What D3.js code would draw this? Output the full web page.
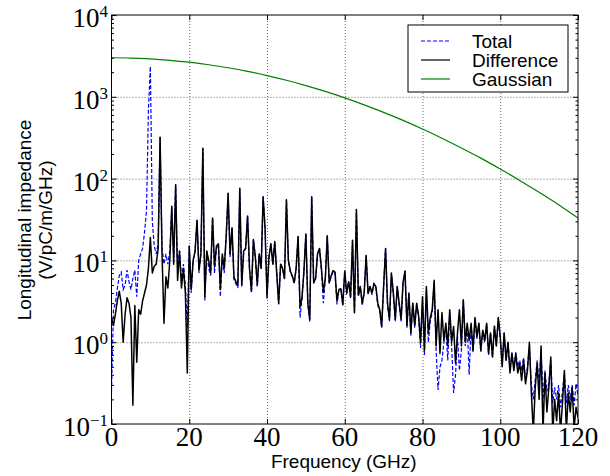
<!DOCTYPE html>
<html>
<head>
<meta charset="utf-8">
<script src="https://cdn.jsdelivr.net/npm/d3@7"></script>
<style>
  body { margin: 0; background: #fff; }
  svg { display: block; }
  .grid line { stroke: #444; stroke-dasharray: 1,2; stroke-width: 0.8; }
  .grid path { display: none; }
  .tk path { display: none; }
  .tk line { stroke: #000; stroke-width: 1; }
  .tk text { display: none; }
</style>
</head>
<body>
<script>
// spectrum sampled every 0.5 GHz, 0 .. 120 GHz
const freqStep = 0.5;

const totalVals = [
  0.25,2.5,3.0,4.5,6.5,7.2,4.4,5.0,7.6,5.5,
  4.4,6.0,7.6,3.6,10,12,14,22,40,700,
  2350,30,15,12,16,320,14,9,12,9,
  13,46,11,84,8,13,6,9,5,1.5,
  15,4.0,10,13,31,7,12,235,3.2,13,
  8,6.5,33,7,14,16,3.6,11,7,19.6,
  66,11,25,5.8,5.2,4.6,76,4.8,13,14,
  35,7.5,4.0,18,11,4.8,12,8,60,25,
  3.4,11,16,9,17,7,2.9,9,8,6,
  55,10,7.2,6.3,5.2,8,19.6,2.0,3.4,7.2,
  21,3,1.75,60,5.2,6,12,14,7.6,3.0,
  6,20,5.2,6.3,7.4,7.0,2.9,4.4,4.4,2.8,
  7.4,3.8,5.5,3.4,17.6,2.2,42,3.6,4.8,2.8,
  4.0,11.5,3.8,4.8,3.8,5.2,4.6,2.8,2.4,1.5,
  4.8,14,2.8,1.8,7,3.8,1.8,4.8,2.8,1.8,
  5.4,7.4,1.5,4.0,1.2,3.0,1.5,3.0,2.0,0.85,
  3.2,0.7,4.5,1.0,1.8,2.3,5.5,0.8,0.26,0.5,
  0.6,1.0,1.5,0.6,2.3,0.9,0.24,0.4,1.2,0.45,
  0.8,3.3,0.9,1.6,0.4,1.6,0.75,1.9,1.1,1.7,
  0.75,1.4,1.0,1.7,0.7,1.3,0.65,1.6,0.9,2.0,
  1.1,0.55,1.3,0.6,1.0,0.45,0.75,0.5,0.75,0.5,
  0.6,0.45,0.65,0.35,0.5,0.9,0.3,0.2,0.35,0.6,
  0.3,0.8,0.2,0.45,0.25,0.32,0.6,0.18,0.28,0.2,
  0.3,0.16,0.25,0.42,0.18,0.3,0.2,0.3,0.17,0.31,
  0.22
];

const diffVals = [
  2.0,1.6,2.2,3.2,4.2,3.0,1.0,2.2,3.5,3.0,
  2.0,0.17,2.8,0.57,2.5,2.2,3.2,4.0,5.0,8,
  19,7,8.5,9,14,320,12,1.7,6.3,4.6,
  10,46,9,84,5.7,13,4.6,8,4,0.42,
  15,4.4,10,13,31,7.6,12,235,3.6,13,
  10,7,33,8.5,15,16,4.4,12,8,19.6,
  66,12,25,6.2,5.5,5,76,5,13,14,
  35,8,4.2,18,11,5,12,8,60,25,
  3.6,11,16,9,17,7,3.0,9,8,6,
  55,10,7.4,6.5,5.4,8,19.6,2.7,3.5,7.4,
  21,3,1.9,60,5.4,6,12,14,8,4.1,
  6,20,5.4,6.5,7.5,7.2,3.2,4.4,4.5,2.9,
  7.4,4.0,5.5,3.6,17.6,2.3,42,3.8,4.8,3.0,
  4.0,11.5,4.0,4.8,4.0,5.2,4.8,3.0,2.5,1.56,
  4.8,14,3.0,1.9,7,4.0,1.9,4.8,3.0,1.9,
  5.4,7.4,1.6,4.0,1.3,3.0,1.6,3.0,2.1,1.0,
  3.6,0.8,4.8,1.3,2.0,2.5,5.7,0.9,2.5,0.73,
  2.3,1.05,1.7,0.9,2.5,1.0,1.56,0.55,1.3,2.5,
  0.9,3.3,1.0,1.7,1.05,1.7,0.8,2.0,1.16,1.7,
  0.8,1.4,1.05,1.7,0.73,1.3,0.66,1.56,0.9,2.0,
  1.16,0.5,1.3,0.6,1.0,0.42,0.73,0.45,0.73,0.42,
  0.55,0.34,0.6,0.31,0.45,1.0,0.24,0.08,0.28,0.55,
  0.2,0.9,0.08,0.42,0.14,0.28,0.66,0.08,0.2,0.11,
  0.24,0.08,0.18,0.45,0.08,0.24,0.14,0.28,0.09,0.16,
  0.12
];

// gaussian bunch spectrum read every 5 GHz
const gaussFreq = [0,5,10,15,20,25,30,35,40,45,50,55,60,65,70,75,80,85,90,95,100,105,110,115,120];
const gaussVals = [3000,2977,2907,2795,2647,2467,2264,2047,1819,1593,1371,1163,971,798,646,515,404,312,237,178,131,95,68,48,33];

const xTicks = [0, 20, 40, 60, 80, 100, 120];
const yTicks = [0.1, 1, 10, 100, 1000, 10000];
const yTickExp = ["\u22121", "0", "1", "2", "3", "4"];
const legendLabels = ["Total", "Difference", "Gaussian"];
const seriesColors = ["#0000ff", "#000000", "#008000"];

const W = 610, H = 476;
const mLeft = 111.5, mRight = 578, mTop = 15, mBottom = 424;
const pw = mRight - mLeft, ph = mBottom - mTop;

const svg = d3.select("body").append("svg").attr("width", W).attr("height", H);

const x = d3.scaleLinear().domain([0, 120]).range([mLeft, mRight]);
const y = d3.scaleLog().domain([0.1, 10000]).range([mBottom, mTop]);

// minor ticks on log axis
const minorTicks = [];
yTicks.slice(0, -1).forEach(d => { for (let k = 2; k <= 9; k++) minorTicks.push(d * k); });

// grid
svg.append("g").attr("class", "grid")
  .attr("transform", `translate(0,${mBottom})`)
  .call(d3.axisBottom(x).tickValues(xTicks.slice(1, -1)).tickSize(-ph).tickFormat(""));
svg.append("g").attr("class", "grid")
  .attr("transform", `translate(${mLeft},0)`)
  .call(d3.axisLeft(y).tickValues(yTicks.slice(1, -1)).tickSize(-pw).tickFormat(""));

svg.append("defs").append("clipPath").attr("id", "plotclip")
  .append("rect").attr("x", mLeft).attr("y", mTop).attr("width", pw).attr("height", ph);

const plot = svg.append("g").attr("clip-path", "url(#plotclip)");

const line = d3.line()
  .x((d, i) => x(i * freqStep))
  .y(d => y(d));

plot.append("path").datum(totalVals)
  .attr("d", line)
  .attr("fill", "none")
  .attr("stroke", seriesColors[0])
  .attr("stroke-width", 1.2)
  .attr("stroke-dasharray", "4,2");

plot.append("path").datum(diffVals)
  .attr("d", line)
  .attr("fill", "none")
  .attr("stroke", seriesColors[1])
  .attr("stroke-width", 1.5)
  .attr("stroke-linejoin", "round");

const gline = d3.line()
  .x((d, i) => x(gaussFreq[i]))
  .y(d => y(d))
  .curve(d3.curveMonotoneX);

plot.append("path").datum(gaussVals)
  .attr("d", gline)
  .attr("fill", "none")
  .attr("stroke", seriesColors[2])
  .attr("stroke-width", 1.2);

// inward ticks on all four sides
svg.append("g").attr("class", "tk").attr("transform", `translate(0,${mBottom})`)
  .call(d3.axisBottom(x).tickValues(xTicks).tickSize(-5));
svg.append("g").attr("class", "tk").attr("transform", `translate(0,${mTop})`)
  .call(d3.axisTop(x).tickValues(xTicks).tickSize(-5));
svg.append("g").attr("class", "tk").attr("transform", `translate(${mLeft},0)`)
  .call(d3.axisLeft(y).tickValues(yTicks).tickSize(-5));
svg.append("g").attr("class", "tk").attr("transform", `translate(${mRight},0)`)
  .call(d3.axisRight(y).tickValues(yTicks).tickSize(-5));
svg.append("g").attr("class", "tk").attr("transform", `translate(${mLeft},0)`)
  .call(d3.axisLeft(y).tickValues(minorTicks).tickSize(-2.5));
svg.append("g").attr("class", "tk").attr("transform", `translate(${mRight},0)`)
  .call(d3.axisRight(y).tickValues(minorTicks).tickSize(-2.5));

// frame
svg.append("rect")
  .attr("x", mLeft).attr("y", mTop).attr("width", pw).attr("height", ph)
  .attr("fill", "none").attr("stroke", "#000").attr("stroke-width", 1);

// tick labels
const serif = "'Liberation Serif', 'DejaVu Serif', serif";
svg.append("g").selectAll("text").data(xTicks).join("text")
  .attr("x", d => x(d))
  .attr("y", 446)
  .attr("text-anchor", "middle")
  .attr("font-family", serif)
  .attr("font-size", 27)
  .text(d => d);

const ylab = svg.append("g").selectAll("text").data(yTicks).join("text")
  .attr("x", 108)
  .attr("y", d => y(d) + 12)
  .attr("text-anchor", "end")
  .attr("font-family", serif)
  .attr("font-size", 27);
ylab.append("tspan").text("10");
ylab.append("tspan").attr("dy", -10).attr("font-size", 17).text((d, i) => yTickExp[i]);

// axis titles
const sans = "'Liberation Sans', Arial, sans-serif";
svg.append("text")
  .attr("x", (mLeft + mRight) / 2 - 1)
  .attr("y", 468)
  .attr("text-anchor", "middle")
  .attr("font-family", sans)
  .attr("font-size", 19)
  .text("Frequency (GHz)");

const yt = svg.append("text")
  .attr("transform", "translate(0,220) rotate(-90)")
  .attr("text-anchor", "middle")
  .attr("font-family", sans)
  .attr("font-size", 19);
yt.append("tspan").attr("x", 0).attr("y", 31).text("Longitudinal impedance");
yt.append("tspan").attr("x", 0).attr("y", 52).text("(V/pC/m/GHz)");

// legend
const leg = svg.append("g");
leg.append("rect")
  .attr("x", 408).attr("y", 25).attr("width", 160).attr("height", 67)
  .attr("fill", "#fff").attr("stroke", "#000").attr("stroke-width", 1);
const rowY = [41, 60, 79];
const dashes = ["4,2", null, null];
legendLabels.forEach((lab, i) => {
  leg.append("line")
    .attr("x1", 421).attr("x2", 450)
    .attr("y1", rowY[i]).attr("y2", rowY[i])
    .attr("stroke", seriesColors[i])
    .attr("stroke-width", 1.2)
    .attr("stroke-dasharray", dashes[i]);
  leg.append("text")
    .attr("x", 472).attr("y", rowY[i] + 6.5)
    .attr("font-family", sans)
    .attr("font-size", 19)
    .text(lab);
});
</script>
</body>
</html>
